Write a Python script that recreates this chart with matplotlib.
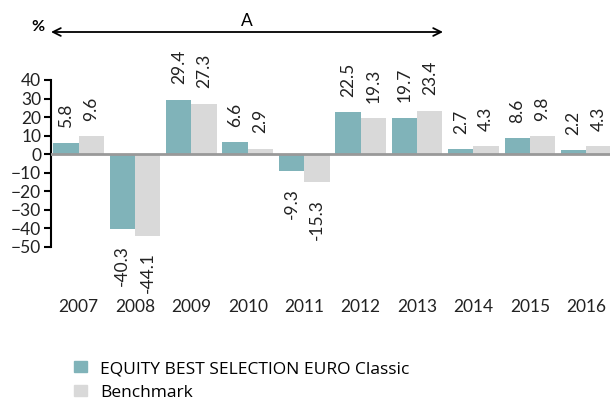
import numpy as np
import matplotlib.pyplot as plt
from matplotlib.patches import Patch

# data
years = ['2007', '2008', '2009', '2010', '2011', '2012', '2013', '2014', '2015', '2016']
fund = [5.8, -40.3, 29.4, 6.6, -9.3, 22.5, 19.7, 2.7, 8.6, 2.2]
bench = [9.6, -44.1, 27.3, 2.9, -15.3, 19.3, 23.4, 4.3, 9.8, 4.3]
yticks = [40, 30, 20, 10, 0, -10, -20, -30, -40, -50]

fund_name = 'EQUITY BEST SELECTION EURO Classic'
bench_name = 'Benchmark'
teal = '#80b3b9'
grey = '#d9d9d9'

plt.rcParams['font.family'] = ['Lato', 'DejaVu Sans']

W, H = 610, 401
fig = plt.figure(figsize=(W / 100, H / 100), dpi=100)
ax = fig.add_axes([51 / W, 1 - 246.7 / H, 1 - 51 / W, (246.7 - 80) / H])

x = np.arange(len(years))
bw = 0.45
ax.bar(x - bw / 2, fund, bw, color=teal, zorder=2)
ax.bar(x + bw / 2, bench, bw, color=grey, zorder=2)
ax.axhline(0, color='#999999', lw=2, zorder=3)

# value labels, rotated
for xs, vals in ((x - bw / 2, fund), (x + bw / 2, bench)):
    for xi, v in zip(xs, vals):
        off = 11 if v >= 0 else -12
        ax.annotate(f'{v:.1f}', (xi, v), xytext=(0, off), textcoords='offset points',
                    rotation=90, ha='center', va='bottom' if v >= 0 else 'top',
                    fontsize=12.5, color='#222222')

ax.set_xlim(-0.49, 9.42)
ax.set_ylim(-50, 40)
ax.set_yticks(yticks)
ax.set_xticks(x)
ax.set_xticklabels(years)
ax.tick_params(axis='x', length=0, pad=38, labelsize=12.5, colors='#222222')
ax.tick_params(axis='y', length=5, width=1.5, pad=2, labelsize=12.5, colors='black')
ax.tick_params(axis='y', labelcolor='#222222')
for s in ('top', 'right', 'bottom'):
    ax.spines[s].set_visible(False)
ax.spines['left'].set_linewidth(1.5)

# period arrow at top
fig.text(38 / W, 1 - 27 / H, '%', fontsize=11.5, fontweight='bold', ha='center', va='center')
ax.annotate('', xy=(51 / W, 1 - 32 / H), xytext=(443 / W, 1 - 32 / H),
            xycoords='figure fraction', textcoords='figure fraction',
            arrowprops=dict(arrowstyle='<->', lw=1.3, color='black',
                            shrinkA=0, shrinkB=0, mutation_scale=14))
fig.text(247 / W, 1 - 21 / H, 'A', fontsize=12.5, ha='center', va='center')

handles = [Patch(color=teal), Patch(color=grey)]
fig.legend(handles, [fund_name, bench_name], loc='upper left',
           bbox_to_anchor=(74 / W, 1 - 361 / H), frameon=False,
           handlelength=0.75, handleheight=0.6, handletextpad=0.75,
           labelspacing=0.45, borderpad=0, borderaxespad=0,
           prop={'family': 'Open Sans', 'size': 12.5})

fig.savefig('out.png', dpi=100)
